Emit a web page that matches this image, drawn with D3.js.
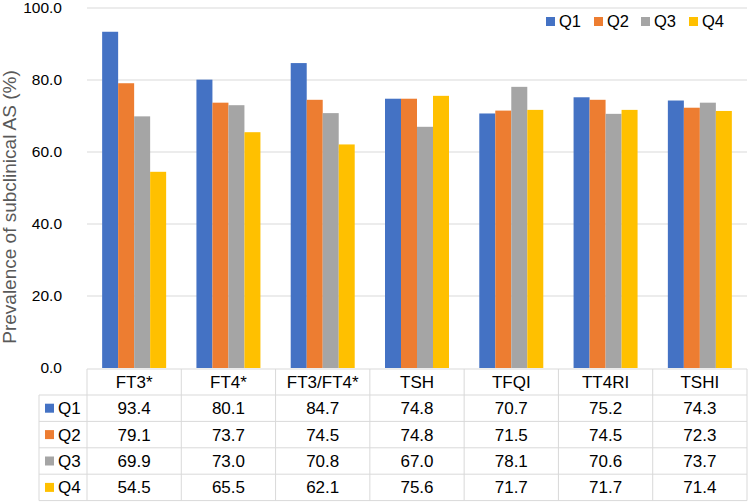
<!DOCTYPE html>
<html><head><meta charset="utf-8">
<script src="https://cdn.jsdelivr.net/npm/d3@7"></script>
<style>
html,body{margin:0;padding:0;background:#fff;}
svg{display:block;font-family:"Liberation Sans",Arial,sans-serif;}
</style></head>
<body><svg id="chart" width="749" height="503"></svg>
<script>
const categories = ["FT3*","FT4*","FT3/FT4*","TSH","TFQI","TT4RI","TSHI"];
const seriesNames = ["Q1","Q2","Q3","Q4"];
const q1 = [93.4,80.1,84.7,74.8,70.7,75.2,74.3];
const q2 = [79.1,73.7,74.5,74.8,71.5,74.5,72.3];
const q3 = [69.9,73.0,70.8,67.0,78.1,70.6,73.7];
const q4 = [54.5,65.5,62.1,75.6,71.7,71.7,71.4];
const yTicks = [0,20,40,60,80,100];
const colors = ["#4472C4","#ED7D31","#A5A5A5","#FFC000"];
const seriesValues = [q1,q2,q3,q4];

(function(){
const svg = d3.select("#chart");
const pLeft = 87, pRight = 747, pTop = 8, pBottom = 368;
const tableLeft = 39;
const headerH = 26, rowH = 26.4;
const tFont = 17;

const x = d3.scaleBand().domain(categories).range([pLeft,pRight]).paddingInner(0).paddingOuter(0);
const barW = 16;
const pOuter = (x.bandwidth()/barW - 4)/2;
const x1 = d3.scaleBand().domain(seriesNames).range([0,x.bandwidth()]).paddingInner(0).paddingOuter(pOuter);
const y = d3.scaleLinear().domain([0,100]).range([pBottom,pTop]);

// gridlines
svg.append("g").selectAll("line").data(yTicks.filter(d=>d>0)).join("line")
  .attr("x1",pLeft).attr("x2",pRight)
  .attr("y1",d=>y(d)).attr("y2",d=>y(d))
  .attr("stroke","#d9d9d9").attr("stroke-width",1);

// y axis labels
const yAxis = d3.axisLeft(y).tickValues(yTicks).tickFormat(d3.format(".1f")).tickSize(0).tickPadding(0);
const ga = svg.append("g").attr("transform",`translate(${62},0)`).call(yAxis);
ga.select(".domain").remove();
ga.selectAll("text").attr("font-size",15.5).attr("fill","#000").attr("font-family","Liberation Sans, Arial, sans-serif");

// axis title
svg.append("text")
  .attr("transform",`translate(16,207) rotate(-90)`)
  .attr("text-anchor","middle")
  .attr("font-size",19).attr("fill","#595959")
  .text("Prevalence of subclinical AS (%)");

// bars
const groups = svg.append("g").selectAll("g").data(categories).join("g")
  .attr("transform",d=>`translate(${x(d)},0)`);
groups.selectAll("rect").data((c,i)=>seriesNames.map((s,j)=>({s,v:seriesValues[j][i],c:colors[j]}))).join("rect")
  .attr("x",d=>x1(d.s)).attr("width",x1.bandwidth())
  .attr("y",d=>y(d.v)).attr("height",d=>y(0)-y(d.v))
  .attr("fill",d=>d.c);

// legend
const legX = [546,594,641,689];
const leg = svg.append("g").selectAll("g").data(seriesNames).join("g")
  .attr("transform",(d,i)=>`translate(${legX[i]},17)`);
leg.append("rect").attr("width",9).attr("height",9).attr("fill",(d,i)=>colors[i]);
leg.append("text").attr("x",13).attr("y",4.5).attr("dy","0.35em").attr("font-size",16.5).attr("fill","#000").text(d=>d);

// table
const tY0 = pBottom + 1;
const tbl = svg.append("g");
const lineCol = "#d9d9d9";
tbl.append("line").attr("x1",pLeft).attr("x2",pRight).attr("y1",tY0).attr("y2",tY0).attr("stroke",lineCol);
const tBottom = tY0 + headerH + rowH*4;
for(let r=0;r<=4;r++){
  const yy = tY0 + headerH + rowH*r;
  tbl.append("line").attr("x1",tableLeft).attr("x2",pRight).attr("y1",yy).attr("y2",yy).attr("stroke",lineCol);
}
const vx = categories.map(c=>x(c)).concat([pRight]);
vx.forEach(xx=>{
  tbl.append("line").attr("x1",xx).attr("x2",xx).attr("y1",tY0).attr("y2",tBottom).attr("stroke",lineCol);
});
tbl.append("line").attr("x1",tableLeft).attr("x2",tableLeft).attr("y1",tY0+headerH).attr("y2",tBottom).attr("stroke",lineCol);

tbl.selectAll("text.h").data(categories).join("text").attr("class","h")
  .attr("x",d=>x(d)+x.bandwidth()/2).attr("y",tY0+headerH/2).attr("dy","0.35em")
  .attr("text-anchor","middle").attr("font-size",tFont).attr("fill","#000").text(d=>d);

seriesNames.forEach((s,j)=>{
  const cy = tY0 + headerH + rowH*j + rowH/2;
  tbl.append("rect").attr("x",45).attr("y",cy-4.5).attr("width",9).attr("height",9).attr("fill",colors[j]);
  tbl.append("text").attr("x",58).attr("y",cy).attr("dy","0.35em").attr("font-size",tFont).attr("fill","#000").text(s);
  tbl.selectAll(null).data(categories).join("text")
    .attr("x",d=>x(d)+x.bandwidth()/2).attr("y",cy).attr("dy","0.35em")
    .attr("text-anchor","middle").attr("font-size",tFont).attr("fill","#000")
    .text((d,i)=>d3.format(".1f")(seriesValues[j][i]));
});
})();
</script></body></html>
